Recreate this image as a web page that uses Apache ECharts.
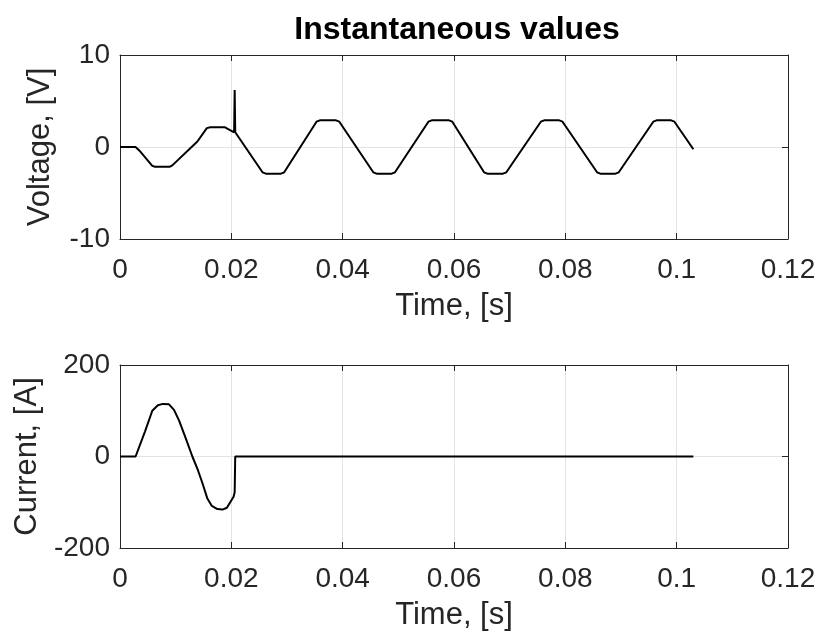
<!DOCTYPE html>
<html>
<head>
<meta charset="utf-8">
<script src="https://cdn.jsdelivr.net/npm/echarts@6/dist/echarts.min.js"></script>
<style>
  html, body { margin: 0; padding: 0; background: #fff; }
  #chart { width: 820px; height: 639px; }
</style>
</head>
<body>
<div id="chart"></div>
<script>
// voltage trace, corner points
var voltTime = [0, 0.0028, 0.0035, 0.0058, 0.0063, 0.0089, 0.0094, 0.0139, 0.0156, 0.0162, 0.0188, 0.0196, 0.0205, 0.0206, 0.0207, 0.0208,
	0.0256, 0.0262, 0.0289, 0.0295, 0.0353, 0.0359, 0.0388, 0.0394, 0.0455, 0.0461, 0.0488, 0.0494, 0.0554, 0.056, 0.0591, 0.0597,
	0.0654, 0.066, 0.0688, 0.0694, 0.0756, 0.0762, 0.0789, 0.0795, 0.0857, 0.0863, 0.089, 0.0896, 0.0958, 0.0964, 0.099, 0.0996, 0.103];
var voltValue = [0, 0, -0.4, -2.05, -2.15, -2.15, -2.0, 0.6, 2.05, 2.15, 2.15, 1.9, 1.6, 6.2, 1.6, 1.5,
	-2.75, -2.9, -2.9, -2.75, 2.75, 2.9, 2.9, 2.75, -2.75, -2.9, -2.9, -2.75, 2.75, 2.9, 2.9, 2.75,
	-2.75, -2.9, -2.9, -2.75, 2.75, 2.9, 2.9, 2.75, -2.75, -2.9, -2.9, -2.75, 2.75, 2.9, 2.9, 2.75, -0.25];

// current trace
var currTime = [0, 0.0028, 0.0045, 0.0058, 0.0068, 0.0077, 0.0088, 0.0097, 0.0106, 0.0118, 0.013, 0.014, 0.0148, 0.0157, 0.0165,
	0.0175, 0.0184, 0.0192, 0.0198, 0.0204, 0.0206, 0.0207, 0.103];
var currValue = [0, 0, 55, 100, 112, 115, 114, 102, 79, 40, 0, -30, -58, -92, -108,
	-115, -116, -112, -100, -88, -78, 0, 0];

var xTicks = { min: 0, max: 0.12, interval: 0.02 };
var voltTicks = { min: -10, max: 10, interval: 10 };
var currTicks = { min: -200, max: 200, interval: 200 };

function pairs(xs, ys) {
	var out = [];
	for (var i = 0; i < xs.length; i++) out.push([xs[i], ys[i]]);
	return out;
}

var fontFam = 'Liberation Sans, Arial, Helvetica, sans-serif';
var boxColor = '#262626';
var labelColor = '#262626';

function mainX(gridIndex) {
	return {
		type: 'value', gridIndex: gridIndex, position: 'bottom',
		min: xTicks.min, max: xTicks.max, interval: xTicks.interval,
		name: 'Time, [s]', nameLocation: 'middle', nameGap: 52,
		nameTextStyle: { fontSize: 31, color: labelColor, fontFamily: fontFam },
		axisLine: { show: true, onZero: false, lineStyle: { color: boxColor, width: 1 } },
		axisTick: { show: true, inside: true, length: 6, lineStyle: { color: boxColor } },
		axisLabel: { fontSize: 28, color: labelColor, fontFamily: fontFam, margin: 17,
			formatter: function (v) { return String(+v.toFixed(4)); } },
		splitLine: { show: true, lineStyle: { color: '#e3e3e3', width: 1 } }
	};
}
function topX(gridIndex) {
	return {
		type: 'value', gridIndex: gridIndex, position: 'top',
		min: xTicks.min, max: xTicks.max, interval: xTicks.interval,
		axisLine: { show: true, onZero: false, lineStyle: { color: boxColor, width: 1 } },
		axisTick: { show: true, inside: true, length: 6, lineStyle: { color: boxColor } },
		axisLabel: { show: false }, splitLine: { show: false }
	};
}
function leftY(gridIndex, ticks, name) {
	return {
		type: 'value', gridIndex: gridIndex, position: 'left',
		min: ticks.min, max: ticks.max, interval: ticks.interval,
		name: name, nameLocation: 'middle', nameGap: 64,
		nameTextStyle: { fontSize: 31, color: labelColor, fontFamily: fontFam },
		axisLine: { show: true, onZero: false, lineStyle: { color: boxColor, width: 1 } },
		axisTick: { show: true, inside: true, length: 6, lineStyle: { color: boxColor } },
		axisLabel: { fontSize: 28, color: labelColor, fontFamily: fontFam, margin: 10 },
		splitLine: { show: true, lineStyle: { color: '#e3e3e3', width: 1 } }
	};
}
function rightY(gridIndex, ticks) {
	return {
		type: 'value', gridIndex: gridIndex, position: 'right',
		min: ticks.min, max: ticks.max, interval: ticks.interval,
		axisLine: { show: true, onZero: false, lineStyle: { color: boxColor, width: 1 } },
		axisTick: { show: true, inside: true, length: 6, lineStyle: { color: boxColor } },
		axisLabel: { show: false }, splitLine: { show: false }
	};
}

var myChart = echarts.init(document.getElementById('chart'), null, { renderer: 'canvas' });
var option = {
	backgroundColor: '#fff',
	animation: false,
	title: {
		text: 'Instantaneous values',
		left: 452, top: 9, textAlign: 'center',
		textStyle: { fontSize: 32, fontWeight: 'bold', color: '#000', fontFamily: fontFam }
	},
	grid: [
		{ left: 120, top: 55, width: 668, height: 184 },
		{ left: 120, top: 365, width: 668, height: 183 }
	],
	xAxis: [mainX(0), topX(0), mainX(1), topX(1)],
	yAxis: [leftY(0, voltTicks, 'Voltage, [V]'), rightY(0, voltTicks),
		leftY(1, currTicks, 'Current, [A]'), rightY(1, currTicks)],
	series: [
		{
			name: 'Voltage', type: 'line', xAxisIndex: 0, yAxisIndex: 0,
			data: pairs(voltTime, voltValue), showSymbol: false,
			lineStyle: { color: '#000', width: 2 }
		},
		{
			name: 'Current', type: 'line', xAxisIndex: 2, yAxisIndex: 2,
			data: pairs(currTime, currValue), showSymbol: false,
			lineStyle: { color: '#000', width: 2 }
		}
	]
};
myChart.setOption(option);
</script>
</body>
</html>
